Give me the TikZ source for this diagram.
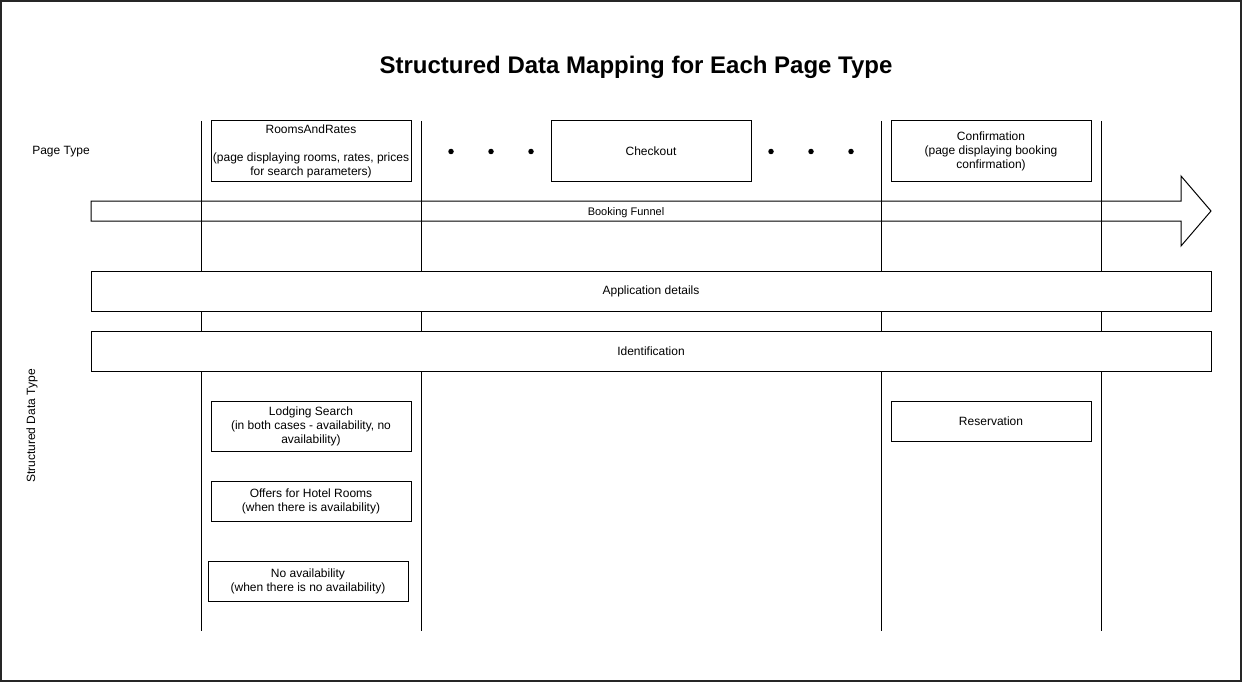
\documentclass[tikz,border=0pt]{standalone}
\usepackage{fontspec}
\setmainfont{Liberation Sans}
\usetikzlibrary{calc}
\usetikzlibrary{positioning}

\begin{document}
\begin{tikzpicture}[x=1pt, y=-1pt, line width=1pt,
        box/.style={rectangle, draw=black, fill=white, minimum width=200pt, minimum height=60pt, inner sep=0pt, align=center, font=\fontsize{12}{14}\selectfont},
        bar/.style={rectangle, draw=black, fill=white, minimum width=1120pt, minimum height=40pt, inner sep=0pt, font=\fontsize{12}{14}\selectfont},
        dot/.style={circle, fill=black, inner sep=0pt, minimum size=5.5pt},
        label/.style={font=\fontsize{12}{14}\selectfont}]
    \useasboundingbox (0, 0) rectangle (1242, 682);
    \draw[black!85, line width=1.6pt] (1, 1) rectangle (1241, 681);
    \node[font=\bfseries\fontsize{24}{28}\selectfont] (title) at (636, 67) {Structured Data Mapping for Each Page Type};
    \def\L{201, 421, 881, 1101}
    \foreach \x[count=\i from 1] in \L
    {
        \coordinate (top\i) at (\x, 121);
        \coordinate (bot\i) at (\x, 631);
        \draw (top\i) -- (bot\i);
    }
    \node[label] (pagetype) at (61, 152) {Page Type};
    \node[label, rotate=90] (datatype) at (32, 426) {Structured Data Type};
    \node[box] (rooms) at (311, 151) {RoomsAndRates\\[14pt](page displaying rooms, rates, prices\\for search parameters)};
    \node[box] (checkout) at (651, 151) {Checkout};
    \node[box] (confirm) at (991, 151) {Confirmation\\(page displaying booking\\confirmation)};
    \foreach \x in {451, 491, 531, 771, 811, 851}
    {
        \node[dot] at (\x, 151.5) {};
    }
    \draw (91, 201) -- (1181, 201) -- (1181, 176) -- (1211, 211) -- (1181, 246) -- (1181, 221) -- (91, 221) -- cycle;
    \node[font=\fontsize{11}{13}\selectfont] (funnel) at (626, 213) {Booking Funnel};
    \node[bar] (appdetails) at (651, 291.5) {Application details};
    \node[bar] (ident) at (651, 351.5) {Identification};
    \node[box, minimum height=50pt] (lodging) at (311, 426) {Lodging Search\\(in both cases - availability, no\\availability)};
    \node[box, minimum height=40pt] (offers) at (311, 501) {Offers for Hotel Rooms\\(when there is availability)};
    \node[box, minimum height=40pt] (noavail) at (308, 581) {No availability\\(when there is no availability)};
    \node[box, minimum height=40pt] (reserve) at (991, 421) {Reservation};
\end{tikzpicture}
\end{document}
